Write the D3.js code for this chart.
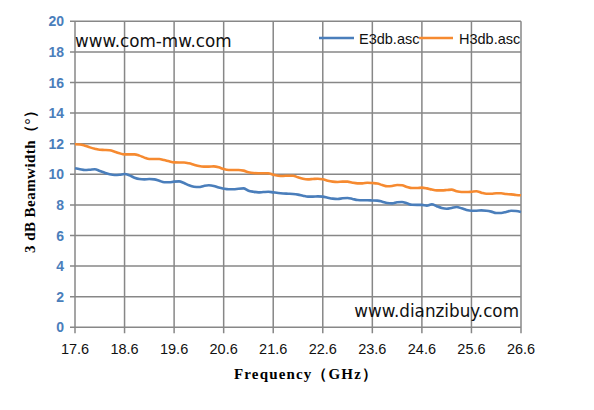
<!DOCTYPE html>
<html><head><meta charset="utf-8">
<script src="https://cdn.jsdelivr.net/npm/d3@7/dist/d3.min.js"></script>
<style>body{margin:0;background:#fff}svg{display:block}</style>
</head><body>
<script>
const freq = [17.6,17.7,17.8,17.9,18.0,18.1,18.2,18.3,18.4,18.5,18.6,18.7,18.8,18.9,19.0,19.1,19.2,19.3,19.4,19.5,19.6,19.7,19.8,19.9,20.0,20.1,20.2,20.3,20.4,20.5,20.6,20.7,20.8,20.9,21.0,21.1,21.2,21.3,21.4,21.5,21.6,21.7,21.8,21.9,22.0,22.1,22.2,22.3,22.4,22.5,22.6,22.7,22.8,22.9,23.0,23.1,23.2,23.3,23.4,23.5,23.6,23.7,23.8,23.9,24.0,24.1,24.2,24.3,24.4,24.5,24.6,24.7,24.8,24.9,25.0,25.1,25.2,25.3,25.4,25.5,25.6,25.7,25.8,25.9,26.0,26.1,26.2,26.3,26.4,26.5,26.6];
const e3db = [10.39,10.33,10.28,10.30,10.33,10.22,10.10,10.00,9.95,9.97,10.02,9.93,9.78,9.69,9.67,9.69,9.67,9.58,9.48,9.48,9.52,9.54,9.43,9.28,9.19,9.17,9.24,9.28,9.24,9.13,9.06,9.02,9.02,9.06,9.08,8.93,8.86,8.82,8.84,8.86,8.82,8.78,8.75,8.73,8.71,8.67,8.60,8.54,8.54,8.56,8.54,8.47,8.41,8.39,8.43,8.45,8.39,8.32,8.30,8.30,8.29,8.28,8.21,8.12,8.10,8.17,8.19,8.10,8.01,8.00,8.00,7.95,8.04,7.91,7.80,7.75,7.80,7.86,7.78,7.67,7.62,7.62,7.64,7.62,7.56,7.47,7.47,7.54,7.62,7.60,7.54];
const h3db = [11.96,11.95,11.87,11.76,11.67,11.60,11.59,11.57,11.48,11.37,11.30,11.30,11.30,11.22,11.09,11.00,11.00,11.00,10.93,10.85,10.78,10.77,10.77,10.72,10.63,10.54,10.50,10.50,10.52,10.46,10.34,10.28,10.28,10.28,10.24,10.13,10.08,10.07,10.07,10.07,9.97,9.91,9.89,9.91,9.91,9.80,9.71,9.67,9.69,9.71,9.67,9.58,9.52,9.50,9.52,9.52,9.45,9.41,9.41,9.45,9.43,9.40,9.30,9.22,9.24,9.30,9.28,9.17,9.10,9.10,9.13,9.08,9.00,8.95,8.95,8.97,9.00,8.89,8.84,8.84,8.86,8.89,8.80,8.73,8.73,8.76,8.76,8.71,8.69,8.65,8.63];
const xTicks = [17.6,18.6,19.6,20.6,21.6,22.6,23.6,24.6,25.6,26.6];
const yTicks = [0,2,4,6,8,10,12,14,16,18,20];
const seriesNames = ["E3db.asc","H3db.asc"];
const colors = ["#4a7ebb","#f68a30"];

const W=594,H=410;
const svg=d3.select("body").append("svg").attr("width",W).attr("height",H);
const x=d3.scaleLinear().domain([17.6,26.6]).range([75,521]);
const y=d3.scaleLinear().domain([0,20]).range([327.3,21.3]);
const grid="#878787";

// grid
svg.append("g").selectAll("line").data(yTicks).join("line")
  .attr("x1",70).attr("x2",521).attr("y1",d=>y(d)).attr("y2",d=>y(d))
  .attr("stroke",grid).attr("stroke-width",1.5);
svg.append("g").selectAll("line").data(xTicks).join("line")
  .attr("x1",d=>x(d)).attr("x2",d=>x(d)).attr("y1",y(20)).attr("y2",y(0)+6)
  .attr("stroke",grid).attr("stroke-width",1.5);

// y labels
svg.append("g").selectAll("text").data(yTicks).join("text")
  .attr("x",64).attr("y",d=>y(d)+5).attr("text-anchor","end")
  .attr("font-family","Liberation Sans, Arial, sans-serif").attr("font-weight","bold")
  .attr("font-size",14).attr("fill","#4a7ebb").text(d=>d);
// x labels
svg.append("g").selectAll("text").data(xTicks).join("text")
  .attr("x",d=>x(d)).attr("y",354).attr("text-anchor","middle")
  .attr("font-family","Liberation Sans, Arial, sans-serif")
  .attr("font-size",14.5).attr("fill","#111").text(d=>d.toFixed(1));

// lines
const series=[e3db,h3db];
const line=d3.line().x((d,i)=>x(freq[i])).y(d=>y(d)).curve(d3.curveMonotoneX);
svg.append("g").selectAll("path").data(series).join("path")
  .attr("d",d=>line(d)).attr("fill","none")
  .attr("stroke",(d,i)=>colors[i]).attr("stroke-width",2.6).attr("stroke-linejoin","round");

// legend
const leg=[{x1:319,x2:354,tx:359},{x1:419,x2:453,tx:459}];
leg.forEach((l,i)=>{
  svg.append("line").attr("x1",l.x1).attr("x2",l.x2).attr("y1",38).attr("y2",38)
    .attr("stroke",colors[i]).attr("stroke-width",2.6);
  svg.append("text").attr("x",l.tx).attr("y",43.5)
    .attr("font-family","Liberation Sans, Arial, sans-serif").attr("font-size",14.5)
    .attr("fill","#111").text(seriesNames[i]);
});

// watermarks
svg.append("text").attr("x",75).attr("y",47).attr("font-family","DejaVu Sans, Verdana, sans-serif")
  .attr("font-size",16.8).attr("fill","#111").text("www.com-mw.com");
svg.append("text").attr("x",519).attr("y",317).attr("text-anchor","end").attr("font-family","DejaVu Sans, Verdana, sans-serif")
  .attr("font-size",16.8).attr("fill","#111").text("www.dianzibuy.com");

// axis titles
const tf="Liberation Serif, Times New Roman, serif";
svg.append("text").attr("x",234).attr("y",379)
  .attr("font-family",tf).attr("font-weight","bold").attr("font-size",15).attr("fill","#000")
  .attr("textLength",143).attr("lengthAdjust","spacing")
  .text("Frequency（GHz）");
svg.append("text").attr("transform","translate(35,253) rotate(-90)")
  .attr("font-family",tf).attr("font-weight","bold").attr("font-size",15).attr("fill","#000")
  .attr("textLength",150).attr("lengthAdjust","spacing")
  .text("3 dB Beamwidth（°）");
</script>
</body></html>
